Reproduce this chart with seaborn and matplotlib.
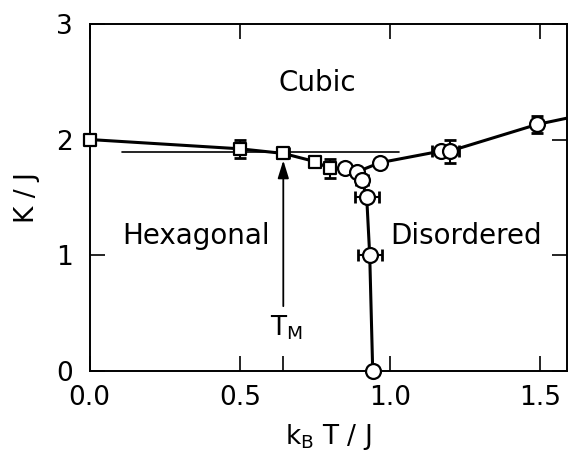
import matplotlib
matplotlib.use("Agg")
import matplotlib.pyplot as plt
import seaborn as sns
import pandas as pd

sns.set_theme(style="ticks")
plt.rcParams['font.family'] = ['DejaVu Sans']
plt.rcParams['text.color'] = 'black'
plt.rcParams['axes.labelcolor'] = 'black'
plt.rcParams['xtick.color'] = 'black'
plt.rcParams['ytick.color'] = 'black'

# Phase boundaries (k_B T / J, K / J)
hex_cub_x = [0.0, 0.5, 0.645, 0.75, 0.80, 0.85, 0.89]
hex_cub_y = [2.0, 1.92, 1.88, 1.81, 1.75, 1.75, 1.72]
dis_cub_x = [0.89, 0.967, 1.17, 1.20, 1.49, 1.60]
dis_cub_y = [1.72, 1.80, 1.90, 1.90, 2.13, 2.19]
hex_dis_x = [0.89, 0.907, 0.923, 0.933, 0.943]
hex_dis_y = [1.72, 1.65, 1.50, 1.00, 0.00]

# Squares (data points)
sq_x = [0.0, 0.5, 0.645, 0.75, 0.80]
sq_y = [2.0, 1.92, 1.88, 1.81, 1.75]
sq_xerr = [0.0, 0.0, 0.02, 0.0, 0.0]
sq_yerr = [0.0, 0.08, 0.0, 0.0, 0.08]

# Circles (data points)
ci_x = [0.85, 0.89, 0.907, 0.923, 0.933, 0.943, 0.967, 1.17, 1.20, 1.49]
ci_y = [1.75, 1.72, 1.65, 1.50, 1.00, 0.00, 1.80, 1.90, 1.90, 2.13]
ci_xerr = [0.0, 0.0, 0.02, 0.04, 0.04, 0.0, 0.0, 0.03, 0.03, 0.0]
ci_yerr = [0.0, 0.0, 0.0, 0.0, 0.0, 0.0, 0.0, 0.0, 0.10, 0.07]

# T_M line
tm_x = 0.645
tm_line_x = [0.107, 1.03]
tm_line_y = [1.89, 1.89]

x_ticks = [0.0, 0.5, 1.0, 1.5]
x_ticklabels = ["0.0", "0.5", "1.0", "1.5"]
y_ticks = [0, 1, 2, 3]
y_ticklabels = ["0", "1", "2", "3"]

fig = plt.figure(figsize=(5.68, 4.58), dpi=100)
ax = fig.add_axes([0.158, 0.19, 0.840, 0.758])

lw = 2.2
for xs, ys in [(hex_cub_x, hex_cub_y), (dis_cub_x, dis_cub_y), (hex_dis_x, hex_dis_y)]:
    df = pd.DataFrame({"x": xs, "y": ys})
    sns.lineplot(data=df, x="x", y="y", sort=False, color="black", lw=lw, ax=ax, zorder=2)

ax.plot(tm_line_x, tm_line_y, color="black", lw=1.2, zorder=1)

ax.errorbar(sq_x, sq_y, xerr=sq_xerr, yerr=sq_yerr, fmt="none", ecolor="black",
            elinewidth=1.5, capsize=4.5, capthick=2.0, zorder=3)
ax.errorbar(ci_x, ci_y, xerr=ci_xerr, yerr=ci_yerr, fmt="none", ecolor="black",
            elinewidth=1.5, capsize=4.5, capthick=2.0, zorder=3)

sq_df = pd.DataFrame({"x": sq_x, "y": sq_y})
ci_df = pd.DataFrame({"x": ci_x, "y": ci_y})
sns.scatterplot(data=sq_df, x="x", y="y", marker="s", s=70, facecolor="white",
                edgecolor="black", linewidth=1.6, ax=ax, zorder=4, clip_on=False)
sns.scatterplot(data=ci_df, x="x", y="y", marker="o", s=115, facecolor="white",
                edgecolor="black", linewidth=1.6, ax=ax, zorder=4, clip_on=False)

ax.annotate("", xy=(tm_x, 1.82), xytext=(tm_x, 0.56),
            arrowprops=dict(arrowstyle="-|>,head_length=0.9,head_width=0.28",
                            color="black", lw=1.3, shrinkA=0, shrinkB=0))
ax.text(tm_x + 0.01, 0.37, "T$_\\mathrm{M}$", fontsize=19, ha="center", va="center")

ax.text(0.76, 2.49, "Cubic", fontsize=20, ha="center", va="center")
ax.text(0.355, 1.17, "Hexagonal", fontsize=20, ha="center", va="center")
ax.text(1.255, 1.17, "Disordered", fontsize=20, ha="center", va="center")

ax.set_xlim(0, 1.59)
ax.set_ylim(0, 3)
ax.set_xticks(x_ticks)
ax.set_xticklabels(x_ticklabels)
ax.set_xticks([tm_x], minor=True)
ax.set_yticks(y_ticks)
ax.set_yticklabels(y_ticklabels)
ax.tick_params(axis="both", which="major", direction="in", length=11, width=1.2,
               top=True, right=True, labelsize=19, pad=10, color="black")
ax.tick_params(axis="x", which="minor", direction="in", length=11, width=1.2,
               top=False, bottom=True)
ax.tick_params(axis="y", which="major", pad=12)

ax.set_xlabel("k$_\\mathrm{B}$ T / J", fontsize=19, labelpad=8)
ax.set_ylabel("K / J", fontsize=19, labelpad=12)

for s in ax.spines.values():
    s.set_linewidth(1.4)
    s.set_color("black")

fig.savefig("out.png", dpi=100, facecolor="white")
